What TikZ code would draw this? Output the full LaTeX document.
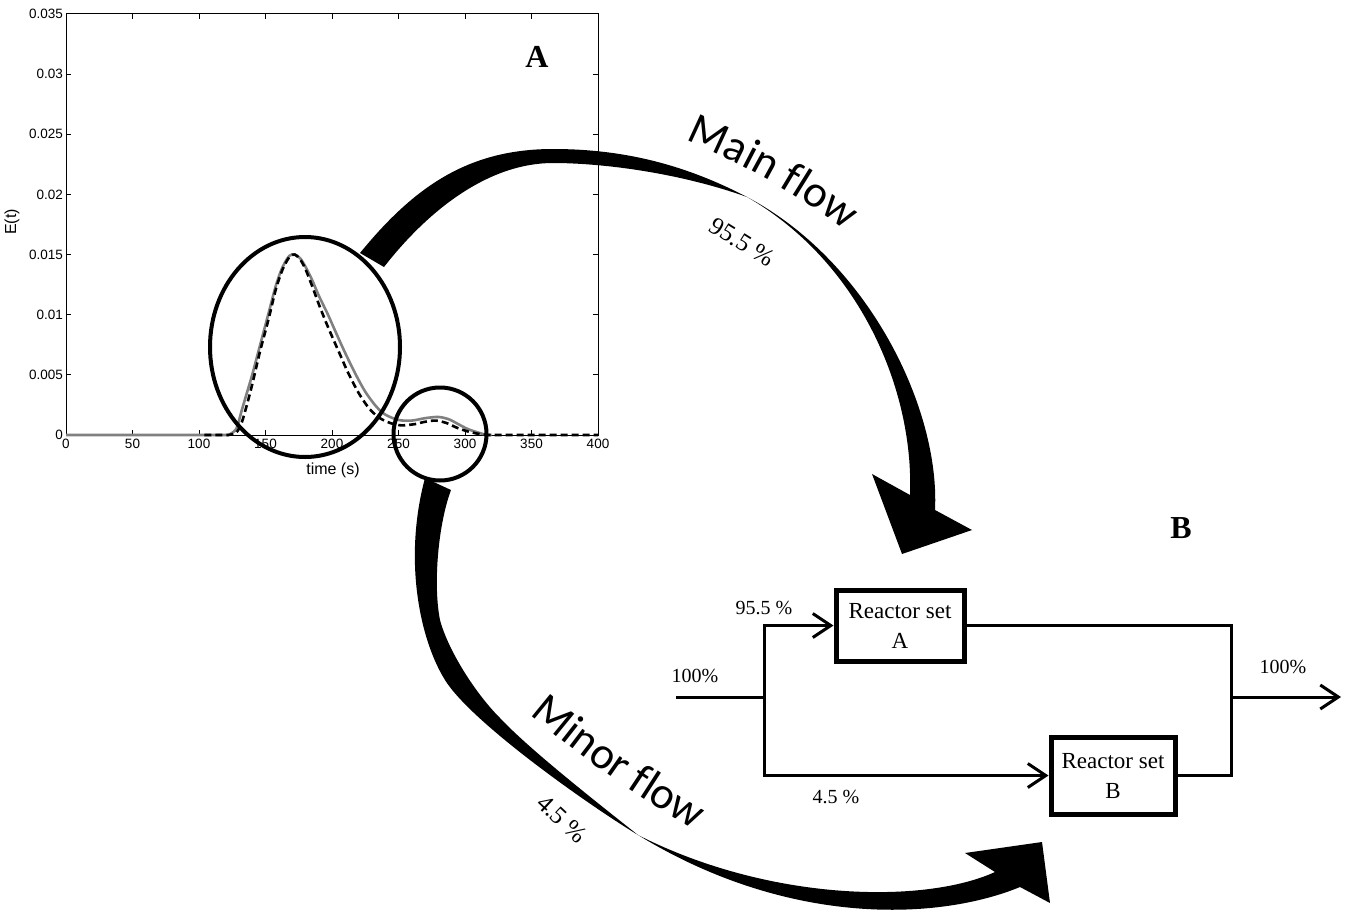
\documentclass[tikz,border=0pt]{standalone}
\usepackage{fontspec}
\setmainfont{Liberation Serif}
\setsansfont{Liberation Sans}
\newfontfamily\flowfont{Carlito}
\usetikzlibrary{arrows.meta, positioning, shapes.geometric, decorations.text}
\tikzset{
  axisline/.style={line width=1pt,black},
  ticklab/.style={font=\sffamily\fontsize{13.5}{15}\selectfont,inner sep=1pt},
  axislab/.style={font=\sffamily\fontsize{16}{18}\selectfont,inner sep=0pt},
  rtdgray/.style={line width=2.6pt,black!50},
  rtdmodel/.style={line width=2.6pt,black,dash pattern=on 7pt off 4pt},
  peakring/.style={draw,line width=4pt,inner sep=0pt},
  flowband/.style={fill=black},
  flowname/.style={decorate,decoration={text along path,text align=center,
      text={|\flowfont\fontsize{45}{50}\selectfont|#1}}},
  flowpct/.style={font=\rmfamily\fontsize{25}{28}\selectfont,inner sep=0pt},
  reactor/.style={draw,line width=5pt,inner sep=0pt,align=center,
      font=\rmfamily\fontsize{23}{30}\selectfont},
  pipe/.style={line width=3pt},
  feedtip/.style={pipe,-{Straight Barb[length=18pt,width=24pt]}},
  splittip/.style={pipe,{Straight Barb[length=18pt,width=24pt]}-{Straight Barb[length=18pt,width=24pt]}},
  flowlab/.style={font=\rmfamily\fontsize{20}{24}\selectfont,inner sep=0pt},
  panellab/.style={font=\rmfamily\bfseries\fontsize{32}{36}\selectfont,inner sep=0pt},
}
\begin{document}
\begin{tikzpicture}[x=1pt,y=-1pt]
  \useasboundingbox (0,0) rectangle (1346,918);

  % panel A: residence time curve
  \begin{scope}[shift={(66,435)},x=1.33pt,y=12.03pt]
    \draw[axisline] (0,0) rectangle (400,35);
    \foreach \t in {0,50,...,400} {
      \draw[axisline] (\t,0) -- (\t,0.42);
      \draw[axisline] (\t,35) -- (\t,34.58);
      \node[ticklab,below=3pt] (xt\t) at (\t,0) {\t};
    }
    \foreach \e/\lab in {0/0,5/0.005,10/0.01,15/0.015,20/0.02,25/0.025,30/0.03,35/0.035} {
      \draw[axisline] (0,\e) -- (3.8,\e);
      \draw[axisline] (400,\e) -- (396.2,\e);
      \node[ticklab,left=2pt] (yt\e) at (0,\e) {\lab};
    }
    \draw[rtdgray] (0,0) -- (122,0) -- plot[smooth,tension=0.5] coordinates {
      (122,0) (128,0.5) (132,2) (136,3.5) (140,5) (146,7.5) (152,10) (158,12.5)
      (163,14) (168,14.9) (172,15) (176,14.7) (180,14) (185,12.9) (190,11.6) (197,10)
      (203,8.5) (210,6.8) (218,5) (225,3.6) (233,2.4) (240,1.7) (250,1.25) (260,1.2)
      (270,1.4) (280,1.5) (288,1.3) (295,0.9) (302,0.5) (310,0.2) (316,0)} -- (320,0);
    \draw[rtdmodel] (104,0) -- (122,0) -- plot[smooth,tension=0.5] coordinates {
      (122,0) (128,0.2) (132,1) (136,2.5) (140,4.2) (146,7) (152,9.5) (158,12.2)
      (163,13.8) (168,14.8) (172,15) (176,14.6) (180,13.8) (185,12.4) (190,10.9) (195,9.5)
      (200,8.2) (206,6.7) (212,5.2) (220,3.5) (228,2.2) (236,1.4) (245,0.95) (252,0.8)
      (262,0.9) (270,1.1) (278,1.2) (286,1) (294,0.6) (302,0.3) (310,0.1) (316,0)} -- (400,0);
  \end{scope}
  \node[axislab] (xname) at (333,470) {time (s)};
  \node[axislab,rotate=90] (yname) at (12,222) {E(t)};
  \node[panellab] (panA) at (537,57) {A};

  \node[peakring,ellipse,minimum width=190pt,minimum height=220pt] (mainpeak) at (305,347) {};
  \node[peakring,circle,minimum size=93pt] (minorpeak) at (440,434) {};

  % main flow band
  \fill[flowband] (360,253) .. controls (414,187) and (468,149) .. (553,149)
    .. controls (620,149) and (682,163) .. (747,197)
    .. controls (870,262) and (940,410) .. (935,510)
    -- (972,530) -- (902,554) -- (872,474) -- (910,495)
    .. controls (914,390) and (860,262) .. (747,197)
    .. controls (677,172) and (600,163) .. (553,163)
    .. controls (490,163) and (430,208) .. (384,267) -- cycle;
  % minor flow band
  \fill[flowband] (425,478) .. controls (403,560) and (420,640) .. (445,680)
    .. controls (471,722) and (587,804) .. (638,835)
    .. controls (790,928) and (940,920) .. (1020,887)
    -- (1050,903) -- (1042,842) -- (965,853) -- (995,872)
    .. controls (925,904) and (770,902) .. (638,835)
    .. controls (599,804) and (530,750) .. (500,718)
    .. controls (475,693) and (448,650) .. (440,620)
    .. controls (433,585) and (438,525) .. (451,490) -- cycle;

  \path[flowname={Main flow}] (678,136) .. controls (745,165) and (800,195) .. (852,236);
  \path[flowname={Minor flow}] (518,704) .. controls (578,756) and (640,800) .. (708,837);
  \node[flowpct,rotate=-32] (mainpct) at (742,242) {95.5 \%};
  \node[flowpct,rotate=-43] (minorpct) at (562,819) {4.5 \%};

  % panel B: flow split
  \node[panellab] (panB) at (1181,528) {B};
  \node[reactor,minimum width=128pt,minimum height=71pt] (setA) at (900,625.5) {Reactor set\\A};
  \node[reactor,minimum width=124pt,minimum height=77pt] (setB) at (1113,775.5) {Reactor set\\B};
  \coordinate (feedin) at (676,697);
  \coordinate (split) at (764,697);
  \coordinate (merge) at (1231,697);
  \coordinate (outlet) at (1341,697);
  \draw[pipe] (feedin) -- (split);
  \draw[splittip] (setA.west) -- (split |- setA.west) -- (split |- setB.west) -- (setB.west);
  \draw[pipe] (setA.east) -- (merge |- setA.east) -- (merge |- setB.east) -- (setB.east);
  \draw[feedtip] (merge) -- (outlet);
  \node[flowlab] (inlab) at (695,676) {100\%};
  \node[flowlab] (alab) at (764,608) {95.5 \%};
  \node[flowlab] (blab) at (836,797) {4.5 \%};
  \node[flowlab] (outlab) at (1283,667) {100\%};
\end{tikzpicture}
\end{document}
